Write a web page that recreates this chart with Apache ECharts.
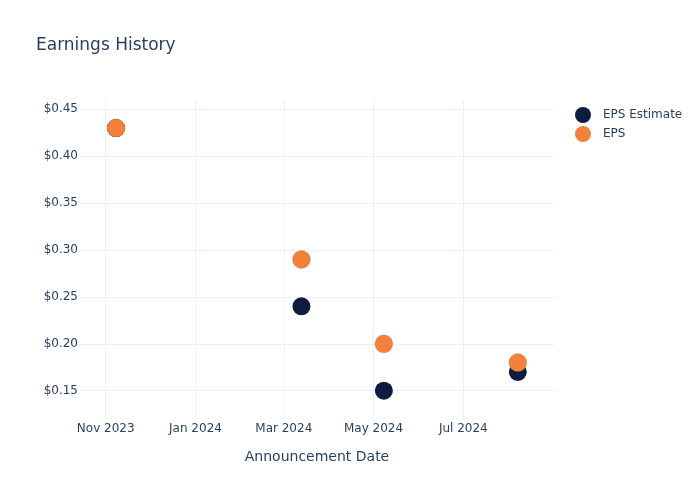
<!DOCTYPE html>
<html><head><meta charset="utf-8">
<script src="https://cdn.jsdelivr.net/npm/echarts@6/dist/echarts.min.js"></script>
<style>html,body{margin:0;padding:0;background:#fff}#c{width:700px;height:500px}</style>
</head><body><div id="c"></div>
<script>
const dates = ['2023-11-08', '2024-03-13', '2024-05-08', '2024-08-07'];
const epsEstimate = [0.43, 0.24, 0.15, 0.17];
const eps = [0.43, 0.29, 0.20, 0.18];
const xTickDates = ['2023-11-01', '2024-01-01', '2024-03-01', '2024-05-01', '2024-07-01'];
const xTickLabels = ['Nov 2023', 'Jan 2024', 'Mar 2024', 'May 2024', 'Jul 2024'];
const yTicks = [0.15, 0.20, 0.25, 0.30, 0.35, 0.40, 0.45];
const yRange = [0.1188, 0.4599];

const DAY = 86400000;
const toMs = d => { const p = d.split('-').map(Number); return Date.UTC(p[0], p[1]-1, p[2]); };
const xTickMs = xTickDates.map(toMs);
const xMin = toMs('2023-11-01') - 17.46 * DAY;
const xMax = toMs('2024-07-01') + 61.6 * DAY;
const labelFor = {};
xTickMs.forEach((v,i)=>{ labelFor[v] = xTickLabels[i]; });

const txt = '#2a3f5f';
const font = 'DejaVu Sans';
const chart = echarts.init(document.getElementById('c'));
chart.setOption({
  animation: false,
  textStyle: { fontFamily: font },
  title: { text: 'Earnings History', left: 31, top: 32, textStyle: { fontFamily: font, fontSize: 17, fontWeight: 'normal', color: txt } },
  legend: {
    orient: 'vertical', left: 570, top: 102, itemWidth: 16, itemHeight: 16, itemGap: 3,
    icon: 'circle',
    textStyle: { fontFamily: font, fontSize: 12, color: txt, padding: [0,0,0,7] },
    data: [
      { name: 'EPS Estimate', itemStyle: { borderWidth: 0 } },
      { name: 'EPS', itemStyle: { borderWidth: 0 } }
    ]
  },
  grid: { left: 80, right: 146, top: 100, bottom: 80 },
  xAxis: {
    type: 'value', min: xMin, max: xMax,
    name: 'Announcement Date', nameLocation: 'middle', nameGap: 30,
    nameTextStyle: { fontFamily: font, fontSize: 14, color: txt },
    axisLine: { show: false }, axisTick: { show: false, customValues: xTickMs },
    axisLabel: { customValues: xTickMs, formatter: v => labelFor[v] || '', color: txt, fontFamily: font, fontSize: 12, margin: 3 },
    splitLine: { show: true, lineStyle: { color: '#EBF0F8', width: 1 } }
  },
  yAxis: {
    type: 'value', min: yRange[0], max: yRange[1],
    axisLine: { show: false }, axisTick: { show: false, customValues: yTicks },
    axisLabel: { customValues: yTicks, formatter: v => '$' + v.toFixed(2), color: txt, fontFamily: font, fontSize: 12, margin: 2 },
    splitLine: { show: true, lineStyle: { color: '#EBF0F8', width: 1 } }
  },
  series: [
    { name: 'EPS Estimate', type: 'scatter', symbolSize: 18,
      itemStyle: { color: '#0D1C3F', opacity: 1 },
      data: dates.map((d,i)=>[toMs(d), epsEstimate[i]]) },
    { name: 'EPS', type: 'scatter', symbolSize: 18,
      itemStyle: { color: '#F5803A', opacity: 1, borderColor: 'rgba(120,120,120,0.5)', borderWidth: 0.5 },
      data: dates.map((d,i)=>[toMs(d), eps[i]]) }
  ]
});
</script></body></html>
